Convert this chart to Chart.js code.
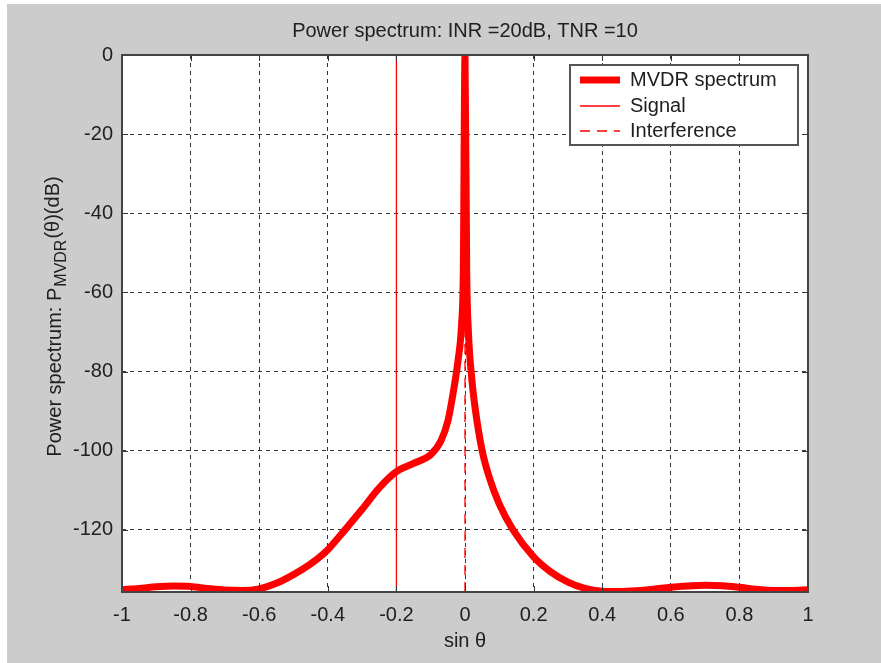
<!DOCTYPE html>
<html>
<head>
<meta charset="utf-8">
<script src="https://cdn.jsdelivr.net/npm/chart.js@4.4.0/dist/chart.umd.min.js"></script>
<style>
    body { margin: 0; background: #ffffff; }
    #figure { position: absolute; left: 7px; top: 4px; width: 874px; height: 659px; background: #cccccc; }
</style>
</head>
<body>
<div id="figure"><canvas id="myChart" width="874" height="659"></canvas></div>
<script>
// values
const sinTheta = [-1, -0.95, -0.9, -0.85, -0.8, -0.75, -0.7, -0.65, -0.6, -0.55, -0.5, -0.45, -0.4, -0.35, -0.3, -0.25, -0.2, -0.15, -0.1, -0.07, -0.05, -0.03, -0.02, -0.01, -0.005, 0, 0.005, 0.01, 0.02, 0.03, 0.05, 0.07, 0.1, 0.14, 0.2, 0.25, 0.3, 0.35, 0.4, 0.45, 0.5, 0.55, 0.6, 0.65, 0.7, 0.75, 0.8, 0.85, 0.9, 0.95, 1];
const mvdrDb = [-135.1, -134.8, -134.4, -134.2, -134.3, -134.8, -135.2, -135.3, -134.9, -133.5, -131.3, -128.6, -125, -120, -114.8, -109.4, -105.3, -103.2, -101, -97.5, -92.5, -83, -77, -68, -55, 0, -55, -70, -82, -89.5, -100, -106.5, -113.5, -120, -126.8, -130.6, -133.2, -134.8, -135.5, -135.6, -135.4, -135, -134.5, -134.2, -134, -134.1, -134.5, -135, -135.3, -135.3, -135.1];
const signalAngle = -0.2;
const interferenceAngle = 0;
const xTicks = [-1, -0.8, -0.6, -0.4, -0.2, 0, 0.2, 0.4, 0.6, 0.8, 1];
const yTicks = [-120, -100, -80, -60, -40, -20, 0];
const yMin = -135.7;
const yMax = 0;

const textColor = '#202020';
const fontFamily = '"Liberation Sans", Arial, sans-serif';
const red = '#ff0000';

function verticalLine(x) {
    return [{ x: x, y: yMin }, { x: x, y: yMax }];
}

// white axes background
const axesBackground = {
    id: 'axesBackground',
    beforeDraw(chart) {
        const { ctx, chartArea: a } = chart;
        ctx.save();
        ctx.fillStyle = '#ffffff';
        ctx.fillRect(a.left, a.top, a.right - a.left, a.bottom - a.top);
        ctx.restore();
    }
};

// matlab style box with ticks on all four sides
const axesBox = {
    id: 'axesBox',
    afterDatasetsDraw(chart) {
        const { ctx, chartArea: a, scales } = chart;
        ctx.save();
        ctx.strokeStyle = '#333333';
        ctx.lineWidth = 1;
        ctx.beginPath();
        xTicks.forEach(v => {
            const px = Math.round(scales.x.getPixelForValue(v)) + 0.5;
            ctx.moveTo(px, a.bottom); ctx.lineTo(px, a.bottom - 6);
            ctx.moveTo(px, a.top); ctx.lineTo(px, a.top + 6);
        });
        yTicks.forEach(v => {
            const py = Math.round(scales.y.getPixelForValue(v)) + 0.5;
            ctx.moveTo(a.left, py); ctx.lineTo(a.left + 6, py);
            ctx.moveTo(a.right, py); ctx.lineTo(a.right - 6, py);
        });
        ctx.stroke();
        ctx.strokeStyle = '#444444';
        ctx.lineWidth = 2;
        ctx.strokeRect(a.left, a.top, a.right - a.left, a.bottom - a.top);
        ctx.restore();
    }
};

// legend in the upper right corner of the axes
const boxLegend = {
    id: 'boxLegend',
    afterDraw(chart) {
        const { ctx, chartArea: a } = chart;
        const w = 228, h = 80;
        const left = a.right - 10 - w, top = a.top + 10;
        const rows = [15, 41, 66];
        ctx.save();
        ctx.fillStyle = '#ffffff';
        ctx.fillRect(left, top, w, h);
        ctx.strokeStyle = '#555555';
        ctx.lineWidth = 2;
        ctx.strokeRect(left, top, w, h);
        chart.data.datasets.forEach((ds, i) => {
            const y = top + rows[i];
            ctx.beginPath();
            ctx.strokeStyle = ds.borderColor;
            ctx.lineWidth = ds.borderWidth;
            ctx.setLineDash(ds.borderDash || []);
            ctx.moveTo(left + 10, y);
            ctx.lineTo(left + 50, y);
            ctx.stroke();
            ctx.setLineDash([]);
            ctx.fillStyle = textColor;
            ctx.font = '20px ' + fontFamily;
            ctx.textBaseline = 'middle';
            ctx.fillText(ds.label, left + 60, y);
        });
        ctx.restore();
    }
};

// y axis title with the MVDR subscript
const yAxisTitle = {
    id: 'yAxisTitle',
    afterDraw(chart) {
        const { ctx, chartArea: a } = chart;
        const main = 'Power spectrum: P', sub = 'MVDR', tail = '(θ)(dB)';
        ctx.save();
        ctx.translate(48, (a.top + a.bottom) / 2 - 6);
        ctx.rotate(-Math.PI / 2);
        ctx.fillStyle = textColor;
        ctx.textBaseline = 'middle';
        ctx.font = '20px ' + fontFamily;
        const w1 = ctx.measureText(main).width;
        const w3 = ctx.measureText(tail).width;
        ctx.font = '16px ' + fontFamily;
        const w2 = ctx.measureText(sub).width;
        let x = -(w1 + w2 + w3) / 2;
        ctx.font = '20px ' + fontFamily;
        ctx.fillText(main, x, 0);
        ctx.font = '16px ' + fontFamily;
        ctx.fillText(sub, x + w1 + 1, 7);
        ctx.font = '20px ' + fontFamily;
        ctx.fillText(tail, x + w1 + w2 + 2, -2);
        ctx.restore();
    }
};

const gridColor = ctx => (ctx.tick && (ctx.tick.value === -1 || ctx.tick.value === 1 || ctx.tick.value === 0 && ctx.scale.axis === 'y')) ? 'rgba(0,0,0,0)' : '#333333';

const ctx = document.getElementById('myChart');

const spectrumChart = new Chart(ctx, {
    type: 'scatter',
    data: {
        datasets: [{
            label: 'MVDR spectrum',
            data: sinTheta.map((x, i) => ({ x: x, y: mvdrDb[i] })),
            borderColor: red,
            borderWidth: 7,
            borderJoinStyle: 'round',
            borderCapStyle: 'round',
            cubicInterpolationMode: 'monotone',
            showLine: true,
            pointRadius: 0
        }, {
            label: 'Signal',
            data: verticalLine(signalAngle),
            borderColor: red,
            borderWidth: 1.3,
            showLine: true,
            pointRadius: 0
        }, {
            label: 'Interference',
            data: verticalLine(interferenceAngle),
            borderColor: red,
            borderWidth: 1.3,
            borderDash: [10, 7],
            showLine: true,
            pointRadius: 0
        }]
    },
    options: {
        responsive: false,
        animation: false,
        devicePixelRatio: 1,
        layout: { padding: { left: 42, right: 0, top: 0, bottom: 0 } },
        plugins: {
            legend: { display: false },
            tooltip: { enabled: false },
            title: {
                display: true,
                text: 'Power spectrum: INR =20dB, TNR =10',
                color: textColor,
                font: { family: fontFamily, size: 20, weight: 'normal' },
                padding: { top: 15, bottom: 12 }
            }
        },
        scales: {
            x: {
                type: 'linear',
                min: -1,
                max: 1,
                afterBuildTicks: s => { s.ticks = xTicks.map(v => ({ value: v })); },
                afterFit: s => { s.height = 71; },
                ticks: {
                    color: textColor,
                    font: { family: fontFamily, size: 20 },
                    padding: 11,
                    maxRotation: 0,
                    autoSkip: false,
                    callback: v => String(v)
                },
                grid: { color: gridColor, lineWidth: 1, drawTicks: false },
                border: { display: false, dash: [4, 4] },
                title: {
                    display: true,
                    text: 'sin θ',
                    color: textColor,
                    font: { family: fontFamily, size: 20 },
                    padding: { top: 0, bottom: 10 }
                }
            },
            y: {
                type: 'linear',
                min: yMin,
                max: yMax,
                afterBuildTicks: s => { s.ticks = yTicks.map(v => ({ value: v })); },
                afterFit: s => { s.width = 73; },
                ticks: {
                    color: textColor,
                    font: { family: fontFamily, size: 20 },
                    padding: 9,
                    callback: v => String(v)
                },
                grid: { color: gridColor, lineWidth: 1, drawTicks: false },
                border: { display: false, dash: [4, 4] }
            },
            // empty right axis, only keeps the title centred over the axes
            yRight: {
                type: 'linear',
                position: 'right',
                afterFit: s => { s.width = 73; },
                ticks: { display: false },
                grid: { display: false },
                border: { display: false }
            }
        }
    },
    plugins: [axesBackground, axesBox, boxLegend, yAxisTitle]
});
</script>
</body>
</html>
